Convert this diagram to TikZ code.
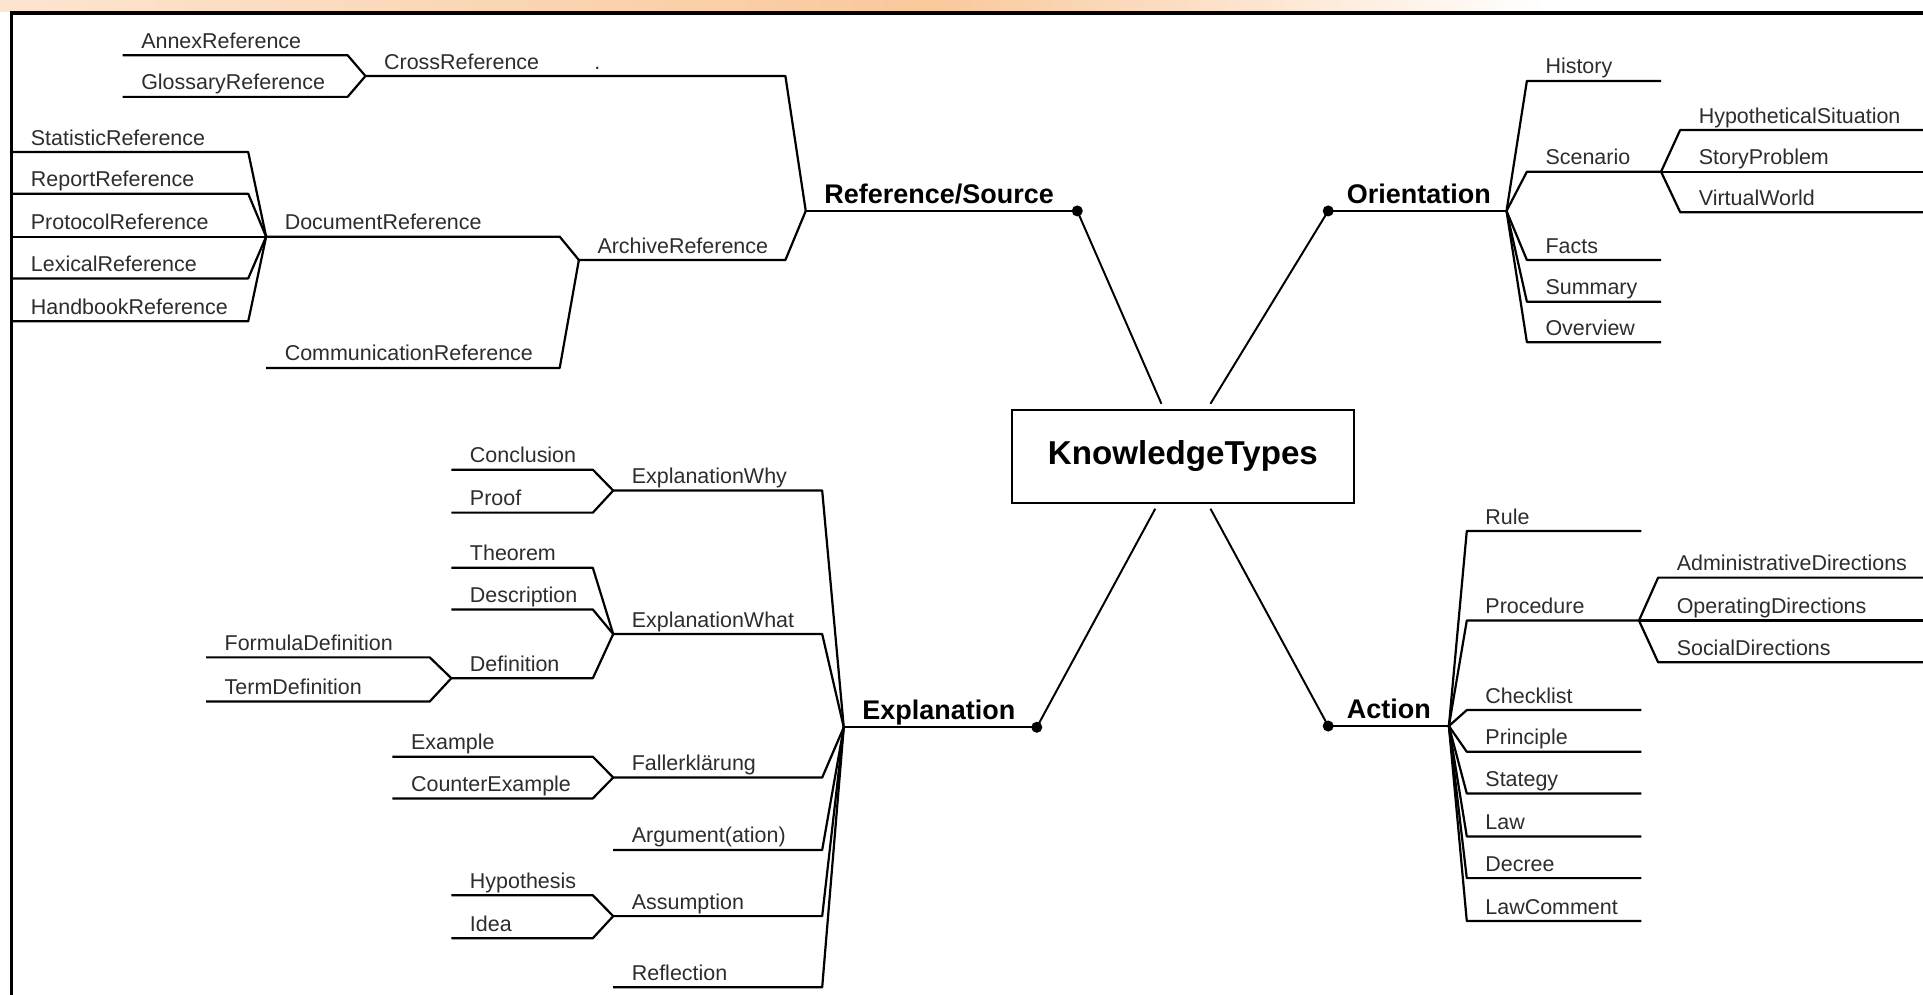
\documentclass[tikz,border=0pt]{standalone}
\usepackage{fontspec}
\setmainfont{Liberation Sans}
\usetikzlibrary{calc}
\setlength{\parindent}{0pt}

\definecolor{stripA}{RGB}{252,229,208}
\definecolor{stripB}{RGB}{249,200,155}
\definecolor{leaftext}{RGB}{45,45,45}

\tikzset{
  branch/.style={line width=1.8pt, line join=round},
  spoke/.style={line width=1.6pt},
  leaf/.style={anchor=south west, inner xsep=0pt, inner ysep=1.5pt, text height=13pt, text depth=4pt, align=left,
    text=leaftext, font=\fontsize{17.5}{20}\selectfont, execute at begin node={\hspace*{15pt}}},
  mainleaf/.style={leaf, text=black, text height=16pt, text depth=4.5pt, font=\fontsize{22}{26}\selectfont\bfseries},
  kbox/.style={draw, line width=1.6pt, minimum width=279pt, minimum height=76pt, inner sep=0pt,
    font=\fontsize{27}{32}\selectfont\bfseries},
}

\begin{document}
\begin{tikzpicture}[x=1pt,y=1pt,yscale=-1,xscale=1]
\useasboundingbox (0,0) rectangle (1568,811);
\fill[white] (0,0) rectangle (1568,811);

% Frame
\shade[left color=stripA, right color=stripB] (0,0) rectangle (760,9);
\shade[left color=stripB, right color=white] (760,0) rectangle (1260,9);
\draw[line width=3pt] (9,10.5) -- (1568,10.5);
\draw[line width=2pt] (9.5,9) -- (9.5,811);

% Text Node
\node[kbox] (kt) at (964.5,372) {KnowledgeTypes};

% Reference/Source
\node[mainleaf, text width=221pt] (refsrc) at (657,172) {Reference/Source};
\node[leaf, text width=342pt] (cross) at (298,62) {CrossReference};
\node[leaf, text width=183pt] (annex) at (100,45) {AnnexReference};
\node[leaf, text width=183pt] (gloss) at (100,79) {GlossaryReference};
\node[font=\fontsize{17.5}{20}\selectfont, text=leaftext, inner sep=0pt, anchor=base] (stray) at (487,57) {.};
\node[leaf, text width=168pt] (archive) at (472,212) {ArchiveReference};
\node[leaf, text width=239pt] (docref) at (217,193) {DocumentReference};
\node[leaf, text width=239pt] (commref) at (217,300) {CommunicationReference};
\node[leaf, text width=192pt] (stat) at (10,124) {StatisticReference};
\node[leaf, text width=192pt] (report) at (10,158) {ReportReference};
\node[leaf, text width=192pt] (protocol) at (10,193) {ProtocolReference};
\node[leaf, text width=192pt] (lexical) at (10,227) {LexicalReference};
\node[leaf, text width=192pt] (handbook) at (10,262) {HandbookReference};

\draw[branch] (refsrc.south west) -- (refsrc.south east);
\draw[branch] (cross.south west) -- (cross.south east) -- (refsrc.south west);
\draw[branch] (annex.south west) -- (annex.south east) -- (cross.south west);
\draw[branch] (gloss.south west) -- (gloss.south east) -- (cross.south west);
\draw[branch] (archive.south west) -- (archive.south east) -- (refsrc.south west);
\draw[branch] (docref.south west) -- (docref.south east) -- (archive.south west);
\draw[branch] (commref.south west) -- (commref.south east) -- (archive.south west);
\draw[branch] (stat.south west) -- (stat.south east) -- (docref.south west);
\draw[branch] (report.south west) -- (report.south east) -- (docref.south west);
\draw[branch] (protocol.south west) -- (protocol.south east) -- (docref.south west);
\draw[branch] (lexical.south west) -- (lexical.south east) -- (docref.south west);
\draw[branch] (handbook.south west) -- (handbook.south east) -- (docref.south west);

% Orientation
\node[mainleaf, text width=145pt] (orient) at (1083,172) {Orientation};
\node[leaf, text width=109pt] (history) at (1245,66) {History};
\node[leaf, text width=109pt] (scenario) at (1245,140) {Scenario};
\node[leaf, text width=198pt] (hypo) at (1370,106) {HypotheticalSituation};
\node[leaf, text width=198pt] (story) at (1370,140) {StoryProblem};
\node[leaf, text width=198pt] (virtual) at (1370,173) {VirtualWorld};
\node[leaf, text width=109pt] (facts) at (1245,212) {Facts};
\node[leaf, text width=109pt] (summary) at (1245,246) {Summary};
\node[leaf, text width=109pt] (overview) at (1245,279) {Overview};

\draw[branch] (orient.south west) -- (orient.south east);
\draw[branch] (orient.south east) -- (history.south west) -- (history.south east);
\draw[branch] (orient.south east) -- (scenario.south west) -- (scenario.south east);
\draw[branch] (scenario.south east) -- (hypo.south west) -- (hypo.south east);
\draw[branch] (scenario.south east) -- (story.south west) -- (story.south east);
\draw[branch] (scenario.south east) -- (virtual.south west) -- (virtual.south east);
\draw[branch] (orient.south east) -- (facts.south west) -- (facts.south east);
\draw[branch] (orient.south east) -- (summary.south west) -- (summary.south east);
\draw[branch] (orient.south east) -- (overview.south west) -- (overview.south east);

% Explanation
\node[mainleaf, text width=157pt] (expl) at (688,593) {Explanation};
\node[leaf, text width=170pt] (exwhy) at (500,400) {ExplanationWhy};
\node[leaf, text width=115pt] (concl) at (368,383) {Conclusion};
\node[leaf, text width=115pt] (proof) at (368,418) {Proof};
\node[leaf, text width=170pt] (exwhat) at (500,517) {ExplanationWhat};
\node[leaf, text width=115pt] (theorem) at (368,463) {Theorem};
\node[leaf, text width=115pt] (descr) at (368,497) {Description};
\node[leaf, text width=115pt] (defin) at (368,553) {Definition};
\node[leaf, text width=182pt] (formula) at (168,536) {FormulaDefinition};
\node[leaf, text width=182pt] (termdef) at (168,572) {TermDefinition};
\node[leaf, text width=170pt] (fall) at (500,634) {Fallerklärung};
\node[leaf, text width=163pt] (example) at (320,617) {Example};
\node[leaf, text width=163pt] (counter) at (320,651) {CounterExample};
\node[leaf, text width=170pt] (argu) at (500,693) {Argument(ation)};
\node[leaf, text width=170pt] (assum) at (500,747) {Assumption};
\node[leaf, text width=115pt] (hypoth) at (368,730) {Hypothesis};
\node[leaf, text width=115pt] (idea) at (368,765) {Idea};
\node[leaf, text width=170pt] (reflect) at (500,805) {Reflection};

\draw[branch] (expl.south west) -- (expl.south east);
\draw[branch] (exwhy.south west) -- (exwhy.south east) -- (expl.south west);
\draw[branch] (concl.south west) -- (concl.south east) -- (exwhy.south west);
\draw[branch] (proof.south west) -- (proof.south east) -- (exwhy.south west);
\draw[branch] (exwhat.south west) -- (exwhat.south east) -- (expl.south west);
\draw[branch] (theorem.south west) -- (theorem.south east) -- (exwhat.south west);
\draw[branch] (descr.south west) -- (descr.south east) -- (exwhat.south west);
\draw[branch] (defin.south west) -- (defin.south east) -- (exwhat.south west);
\draw[branch] (formula.south west) -- (formula.south east) -- (defin.south west);
\draw[branch] (termdef.south west) -- (termdef.south east) -- (defin.south west);
\draw[branch] (fall.south west) -- (fall.south east) -- (expl.south west);
\draw[branch] (example.south west) -- (example.south east) -- (fall.south west);
\draw[branch] (counter.south west) -- (counter.south east) -- (fall.south west);
\draw[branch] (argu.south west) -- (argu.south east) -- (expl.south west);
\draw[branch] (assum.south west) -- (assum.south east) -- (expl.south west);
\draw[branch] (hypoth.south west) -- (hypoth.south east) -- (assum.south west);
\draw[branch] (idea.south west) -- (idea.south east) -- (assum.south west);
\draw[branch] (reflect.south west) -- (reflect.south east) -- (expl.south west);

% Action
\node[mainleaf, text width=98pt] (action) at (1083,592) {Action};
\node[leaf, text width=142pt] (rule) at (1196,433) {Rule};
\node[leaf, text width=140pt] (proced) at (1196,506) {Procedure};
\node[leaf, text width=216pt] (admin) at (1352,471) {AdministrativeDirections};
\node[leaf, text width=216pt] (operat) at (1352,506) {OperatingDirections};
\node[leaf, text width=216pt] (social) at (1352,540) {SocialDirections};
\node[leaf, text width=142pt] (checkl) at (1196,579) {Checklist};
\node[leaf, text width=142pt] (princ) at (1196,613) {Principle};
\node[leaf, text width=142pt] (strat) at (1196,647) {Stategy};
\node[leaf, text width=142pt] (law) at (1196,682) {Law};
\node[leaf, text width=142pt] (decree) at (1196,716) {Decree};
\node[leaf, text width=142pt] (lawcom) at (1196,751) {LawComment};

\draw[branch] (action.south west) -- (action.south east);
\draw[branch] (action.south east) -- (rule.south west) -- (rule.south east);
\draw[branch] (action.south east) -- (proced.south west) -- (proced.south east);
\draw[branch] (proced.south east) -- (admin.south west) -- (admin.south east);
\draw[branch] (proced.south east) -- (operat.south west) -- (operat.south east);
\draw[branch] (proced.south east) -- (social.south west) -- (social.south east);
\draw[branch] (action.south east) -- (checkl.south west) -- (checkl.south east);
\draw[branch] (action.south east) -- (princ.south west) -- (princ.south east);
\draw[branch] (action.south east) -- (strat.south west) -- (strat.south east);
\draw[branch] (action.south east) -- (law.south west) -- (law.south east);
\draw[branch] (action.south east) -- (decree.south west) -- (decree.south east);
\draw[branch] (action.south east) -- (lawcom.south west) -- (lawcom.south east);

% Spokes to the centre
\fill (refsrc.south east) circle[radius=4.5pt];
\fill (orient.south west) circle[radius=4.5pt];
\fill (expl.south east) circle[radius=4.5pt];
\fill (action.south west) circle[radius=4.5pt];
\draw[spoke] (refsrc.south east) -- ($(kt.north)+(-17.5,-4)$);
\draw[spoke] (orient.south west) -- ($(kt.north)+(22.5,-4)$);
\draw[spoke] (expl.south east) -- ($(kt.south)+(-22.5,4)$);
\draw[spoke] (action.south west) -- ($(kt.south)+(22.5,4)$);

\end{tikzpicture}
\end{document}
